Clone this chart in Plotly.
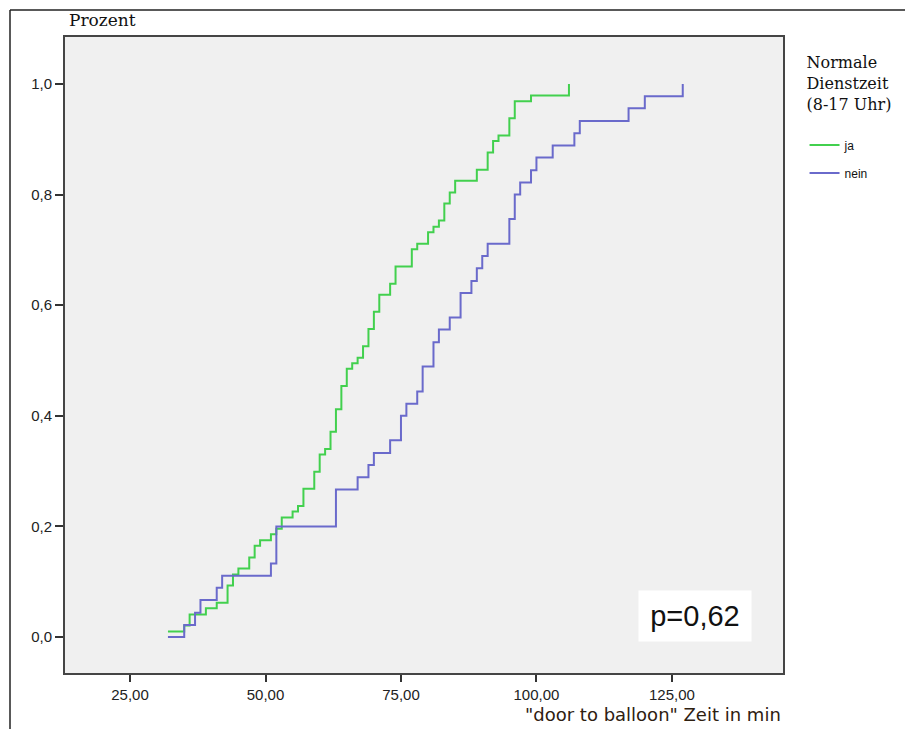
import plotly.graph_objects as go

# ---- data (step points: time in min, cumulative proportion) ----
ja_time = [32, 35, 36, 39, 41, 43, 44, 45, 47, 48, 49, 51, 52, 53, 55, 56, 57, 59, 60, 61,
           62, 63, 64, 65, 66, 67, 68, 69, 70, 71, 73, 74, 77, 78, 80, 81, 82, 83, 84, 85,
           89, 91, 92, 93, 95, 96, 99, 106]
ja_cum = [0.010, 0.021, 0.041, 0.052, 0.062, 0.093, 0.113, 0.124, 0.144, 0.165, 0.175, 0.186,
          0.196, 0.216, 0.227, 0.237, 0.268, 0.299, 0.330, 0.340, 0.371, 0.412, 0.454, 0.485,
          0.495, 0.505, 0.526, 0.557, 0.588, 0.619, 0.639, 0.670, 0.701, 0.711, 0.732, 0.742,
          0.753, 0.784, 0.804, 0.825, 0.845, 0.876, 0.897, 0.907, 0.938, 0.969, 0.979, 1.000]

nein_time = [32, 35, 37, 38, 41, 42, 51, 52, 63, 67, 69, 70, 73, 75, 76, 78, 79, 81, 82, 84,
             86, 88, 89, 90, 91, 95, 96, 97, 99, 100, 103, 107, 108, 117, 120, 127]
nein_cum = [0.000, 0.022, 0.044, 0.067, 0.089, 0.111, 0.133, 0.200, 0.267, 0.289, 0.311, 0.333,
            0.356, 0.400, 0.422, 0.444, 0.489, 0.533, 0.556, 0.578, 0.622, 0.644, 0.667, 0.689,
            0.711, 0.756, 0.800, 0.822, 0.844, 0.867, 0.889, 0.911, 0.933, 0.956, 0.978, 1.000]

x_ticks = [25, 50, 75, 100, 125]
x_ticklabels = ["25,00", "50,00", "75,00", "100,00", "125,00"]
y_ticks = [0.0, 0.2, 0.4, 0.6, 0.8, 1.0]
y_ticklabels = ["0,0", "0,2", "0,4", "0,6", "0,8", "1,0"]

series_names = ["ja", "nein"]
series_colors = ["#42d04e", "#6a6acb"]
legend_title = "Normale<br>Dienstzeit<br>(8-17 Uhr)<br> "
p_text = "p=0,62"

SERIF = "DejaVu Serif, Liberation Serif, serif"

fig = go.Figure()
for name, xs, ys, col in [(series_names[0], ja_time, ja_cum, series_colors[0]),
                          (series_names[1], nein_time, nein_cum, series_colors[1])]:
    fig.add_trace(go.Scatter(x=xs, y=ys, mode="lines", name=name, legendgroup=name,
                             line=dict(shape="hv", color=col, width=2)))

axis_common = dict(showgrid=False, zeroline=False, showline=True, linecolor="#454545",
                   linewidth=2, mirror=True, ticks="outside", tickcolor="#333",
                   tickwidth=2, tickfont=dict(family="Liberation Sans, Arial", size=15, color="#222"))

fig.update_xaxes(range=[13, 145.5], tickvals=x_ticks, ticktext=x_ticklabels, ticklen=7, **axis_common)
fig.update_yaxes(range=[-0.065, 1.085], tickvals=y_ticks, ticktext=y_ticklabels, ticklen=8, **axis_common)

fig.update_layout(
    width=905, height=721,
    margin=dict(l=57, r=130, t=29, b=56),
    paper_bgcolor="white", plot_bgcolor="#f0f0f0",
    showlegend=True,
    legend=dict(x=1.03, y=0.984, xanchor="left", yanchor="top",
                title=dict(text=legend_title,
                           font=dict(family=SERIF, size=16, color="#111")),
                font=dict(family="Liberation Sans, Arial", size=12, color="#111"),
                bgcolor="rgba(0,0,0,0)", itemwidth=30, tracegroupgap=9),
    annotations=[
        dict(text="Prozent", xref="paper", yref="paper", x=0.003, y=1.0265, xanchor="left", yanchor="middle",
             showarrow=False, font=dict(family=SERIF, size=17, color="#111")),
        dict(text='"door to balloon" Zeit in min', xref="paper", yref="paper", x=1.0, y=-0.066,
             xanchor="right", yanchor="middle", showarrow=False,
             font=dict(family="DejaVu Sans, Liberation Sans", size=18, color="#2e2010")),
        dict(text=p_text, xref="paper", yref="paper", x=0.877, y=0.0896, xanchor="center", yanchor="middle",
             showarrow=False, bgcolor="white", width=110, height=48,
             font=dict(family="Liberation Sans, Arial", size=29, color="#111")),
    ],
    shapes=[
        dict(type="line", xref="paper", yref="paper", x0=-0.0766, x1=1.2, y0=1.0425, y1=1.0425,
             line=dict(color="#222", width=1.5)),
        dict(type="line", xref="paper", yref="paper", x0=-0.0766, x1=-0.0766, y0=1.0425, y1=-0.1,
             line=dict(color="#222", width=1.5)),
    ],
)

fig.write_html("out.html")
